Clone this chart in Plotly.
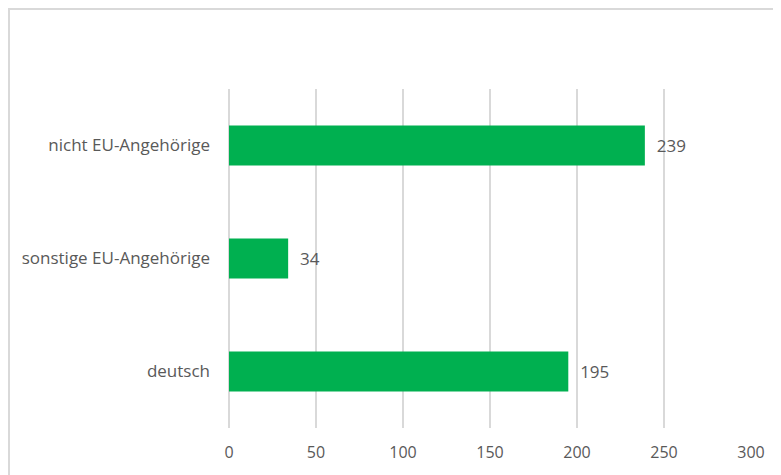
import plotly.graph_objects as go

categories = ["deutsch", "sonstige EU-Angehörige", "nicht EU-Angehörige"]
values = [195, 34, 239]
tick_vals = [0, 50, 100, 150, 200, 250, 300]

fig = go.Figure(go.Bar(
    y=categories, x=values, orientation="h",
    marker=dict(color="#00B050", line=dict(width=0)),
    text=[f"  {v}" for v in values], textposition="outside",
    textfont=dict(size=17, color="#595959", family="Open Sans"),
    cliponaxis=False,
))

# page body adds an 8px offset; figure is sized to fill the rest of the window
W, H = 773, 467
fig.update_layout(
    width=W, height=H,
    margin=dict(l=221, r=30, t=81, b=47),
    paper_bgcolor="white", plot_bgcolor="white",
    bargap=0.645,
    showlegend=False,
    font=dict(family="Open Sans", color="#595959", size=16),
    xaxis=dict(range=[0, 300], tickvals=tick_vals, showgrid=True,
               gridcolor="#d9d9d9", gridwidth=1.5, zeroline=True,
               zerolinecolor="#d9d9d9", zerolinewidth=1.5,
               showline=False, ticks="", ticklabelstandoff=13,
               tickfont=dict(size=16, color="#595959")),
    yaxis=dict(showgrid=False, zeroline=False, showline=False, ticks="",
               ticklabelstandoff=18, tickfont=dict(size=17, color="#595959")),
    shapes=[dict(type="rect", xref="paper", yref="paper",
                 x0=(1 - 221) / 522, x1=1.2, y0=-0.3, y1=(420 - 1) / 339,
                 line=dict(color="#d9d9d9", width=2), fillcolor="rgba(0,0,0,0)", layer="below")],
)

fig.write_html("out.html")
